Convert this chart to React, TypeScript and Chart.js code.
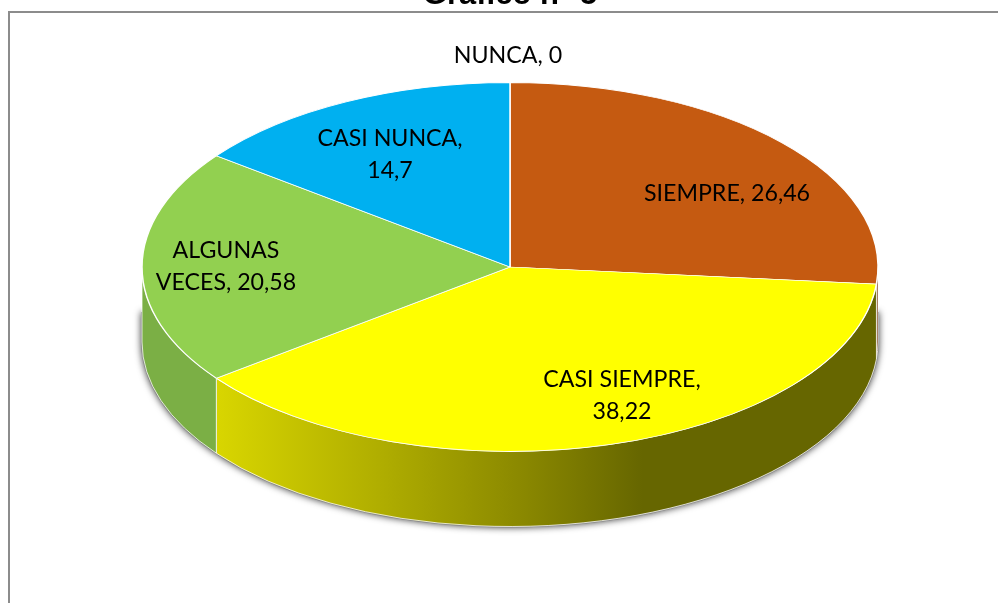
import React, { useEffect, useRef } from "react";
import { Chart, registerables } from "chart.js";

Chart.register(...registerables);

const categories = ["SIEMPRE", "CASI SIEMPRE", "ALGUNAS VECES", "CASI NUNCA", "NUNCA"];
const values = [26.46, 38.22, 20.58, 14.7, 0];
const valueLabels = ["26,46", "38,22", "20,58", "14,7", "0"];
const colors = ["#C55A11", "#FFFF00", "#92D050", "#00B0F0", "#7F7F7F"];
const wallColors = ["#6E3209", "#666600", "#7BAF45", "#007AA8", "#555555"];
const titleText = "Gráfico n° 5";

const TILT = 184.5 / 368;
const DEPTH = 75;
const labelFont = '23.2px Lato, "Open Sans", sans-serif';

const labelLayout = [
  { x: 727, y: 194, lines: ["SIEMPRE, 26,46"] },
  { x: 622, y: 380, lines: ["CASI SIEMPRE,", "38,22"] },
  { x: 226, y: 251, lines: ["ALGUNAS", "VECES, 20,58"] },
  { x: 390, y: 139, lines: ["CASI NUNCA,", "14,7"] },
  { x: 508, y: 56, lines: ["NUNCA, 0"] },
];

const pie3d = {
  id: "pie3d",
  beforeDraw(chart: any) {
    const { ctx } = chart;
    ctx.save();
    ctx.strokeStyle = "#8c8c8c";
    ctx.lineWidth = 2;
    ctx.strokeRect(9, 12, 1100, 800);
    ctx.fillStyle = "#000";
    ctx.font = 'bold 31px "Liberation Sans", Arial, sans-serif';
    ctx.textAlign = "center";
    ctx.textBaseline = "alphabetic";
    ctx.fillText(titleText, 510, 4);
    ctx.restore();
  },
  beforeDatasetsDraw(chart: any) {
    const { ctx } = chart;
    const arcs = chart.getDatasetMeta(0).data;
    const { x: cx, y: cy, outerRadius: rx } = arcs[0];
    const ry = rx * TILT;

    // soft shadow under the extruded body; its top edge stays hidden behind the walls
    ctx.save();
    ctx.shadowColor = "rgba(0,0,0,0.75)";
    ctx.shadowBlur = 7;
    ctx.fillStyle = "#888";
    ctx.beginPath();
    ctx.moveTo(cx + rx + 1, cy + 45);
    ctx.ellipse(cx, cy + DEPTH, rx + 1, ry + 1, 0, 0, Math.PI);
    ctx.lineTo(cx - rx - 1, cy + 45);
    ctx.closePath();
    ctx.fill();
    ctx.restore();

    // side walls for the front half of the pie
    arcs.forEach((arc: any, i: number) => {
      const norm = (a: number) => (a < -Math.PI / 2 - 1e-6 ? a + 2 * Math.PI : a);
      const start = norm(arc.startAngle);
      const end = norm(arc.endAngle);
      const a = Math.max(start, 0);
      const b = Math.min(end, Math.PI);
      if (b <= a) return;
      ctx.save();
      ctx.beginPath();
      ctx.ellipse(cx, cy + DEPTH, rx, ry, 0, a, b);
      ctx.ellipse(cx, cy, rx, ry, 0, b, a, true);
      ctx.closePath();
      if (i === 1) {
        const g = ctx.createLinearGradient(cx - rx * 0.8, 0, cx + rx * 0.36, 0);
        g.addColorStop(0, "#D9D600");
        g.addColorStop(0.4, "#AEAC00");
        g.addColorStop(0.72, "#8A8800");
        g.addColorStop(1, wallColors[1]);
        ctx.fillStyle = g;
      } else {
        ctx.fillStyle = wallColors[i];
      }
      ctx.fill();
      ctx.strokeStyle = "rgba(255,255,255,0.75)";
      ctx.lineWidth = 1;
      ctx.stroke();
      ctx.restore();
    });

    // flatten the library's pie into the tilted top face
    ctx.save();
    ctx.translate(cx, cy);
    ctx.scale(1, TILT);
    ctx.translate(-cx, -cy);
  },
  afterDatasetsDraw(chart: any) {
    const { ctx } = chart;
    ctx.restore();
    ctx.save();
    ctx.fillStyle = "#000";
    ctx.font = labelFont;
    ctx.textAlign = "center";
    ctx.textBaseline = "middle";
    labelLayout.forEach((l) => {
      l.lines.forEach((t, k) => ctx.fillText(t, l.x, l.y + k * 32));
    });
    ctx.restore();
  },
};

export default function App() {
  const ref = useRef<HTMLCanvasElement>(null);
  useEffect(() => {
    const chart = new Chart(ref.current!, {
      type: "pie",
      data: {
        labels: categories,
        datasets: [
          {
            data: values,
            backgroundColor: colors,
            borderColor: "#ffffff",
            borderWidth: 1.5,
            clip: false,
            radius: 368,
          } as any,
        ],
      },
      options: {
        responsive: false,
        animation: false,
        events: [],
        layout: { padding: { left: 22, right: 0, top: 0, bottom: 69 } },
        plugins: { legend: { display: false }, tooltip: { enabled: false }, title: { display: false } },
      },
      plugins: [pie3d],
    });
    return () => chart.destroy();
  }, []);
  return (
    <div style={{ position: "fixed", left: 0, top: 0, width: 998, height: 603, background: "#fff" }}>
      <canvas ref={ref} width={998} height={603} style={{ display: "block" }} aria-label={valueLabels.join(" ")} />
    </div>
  );
}
